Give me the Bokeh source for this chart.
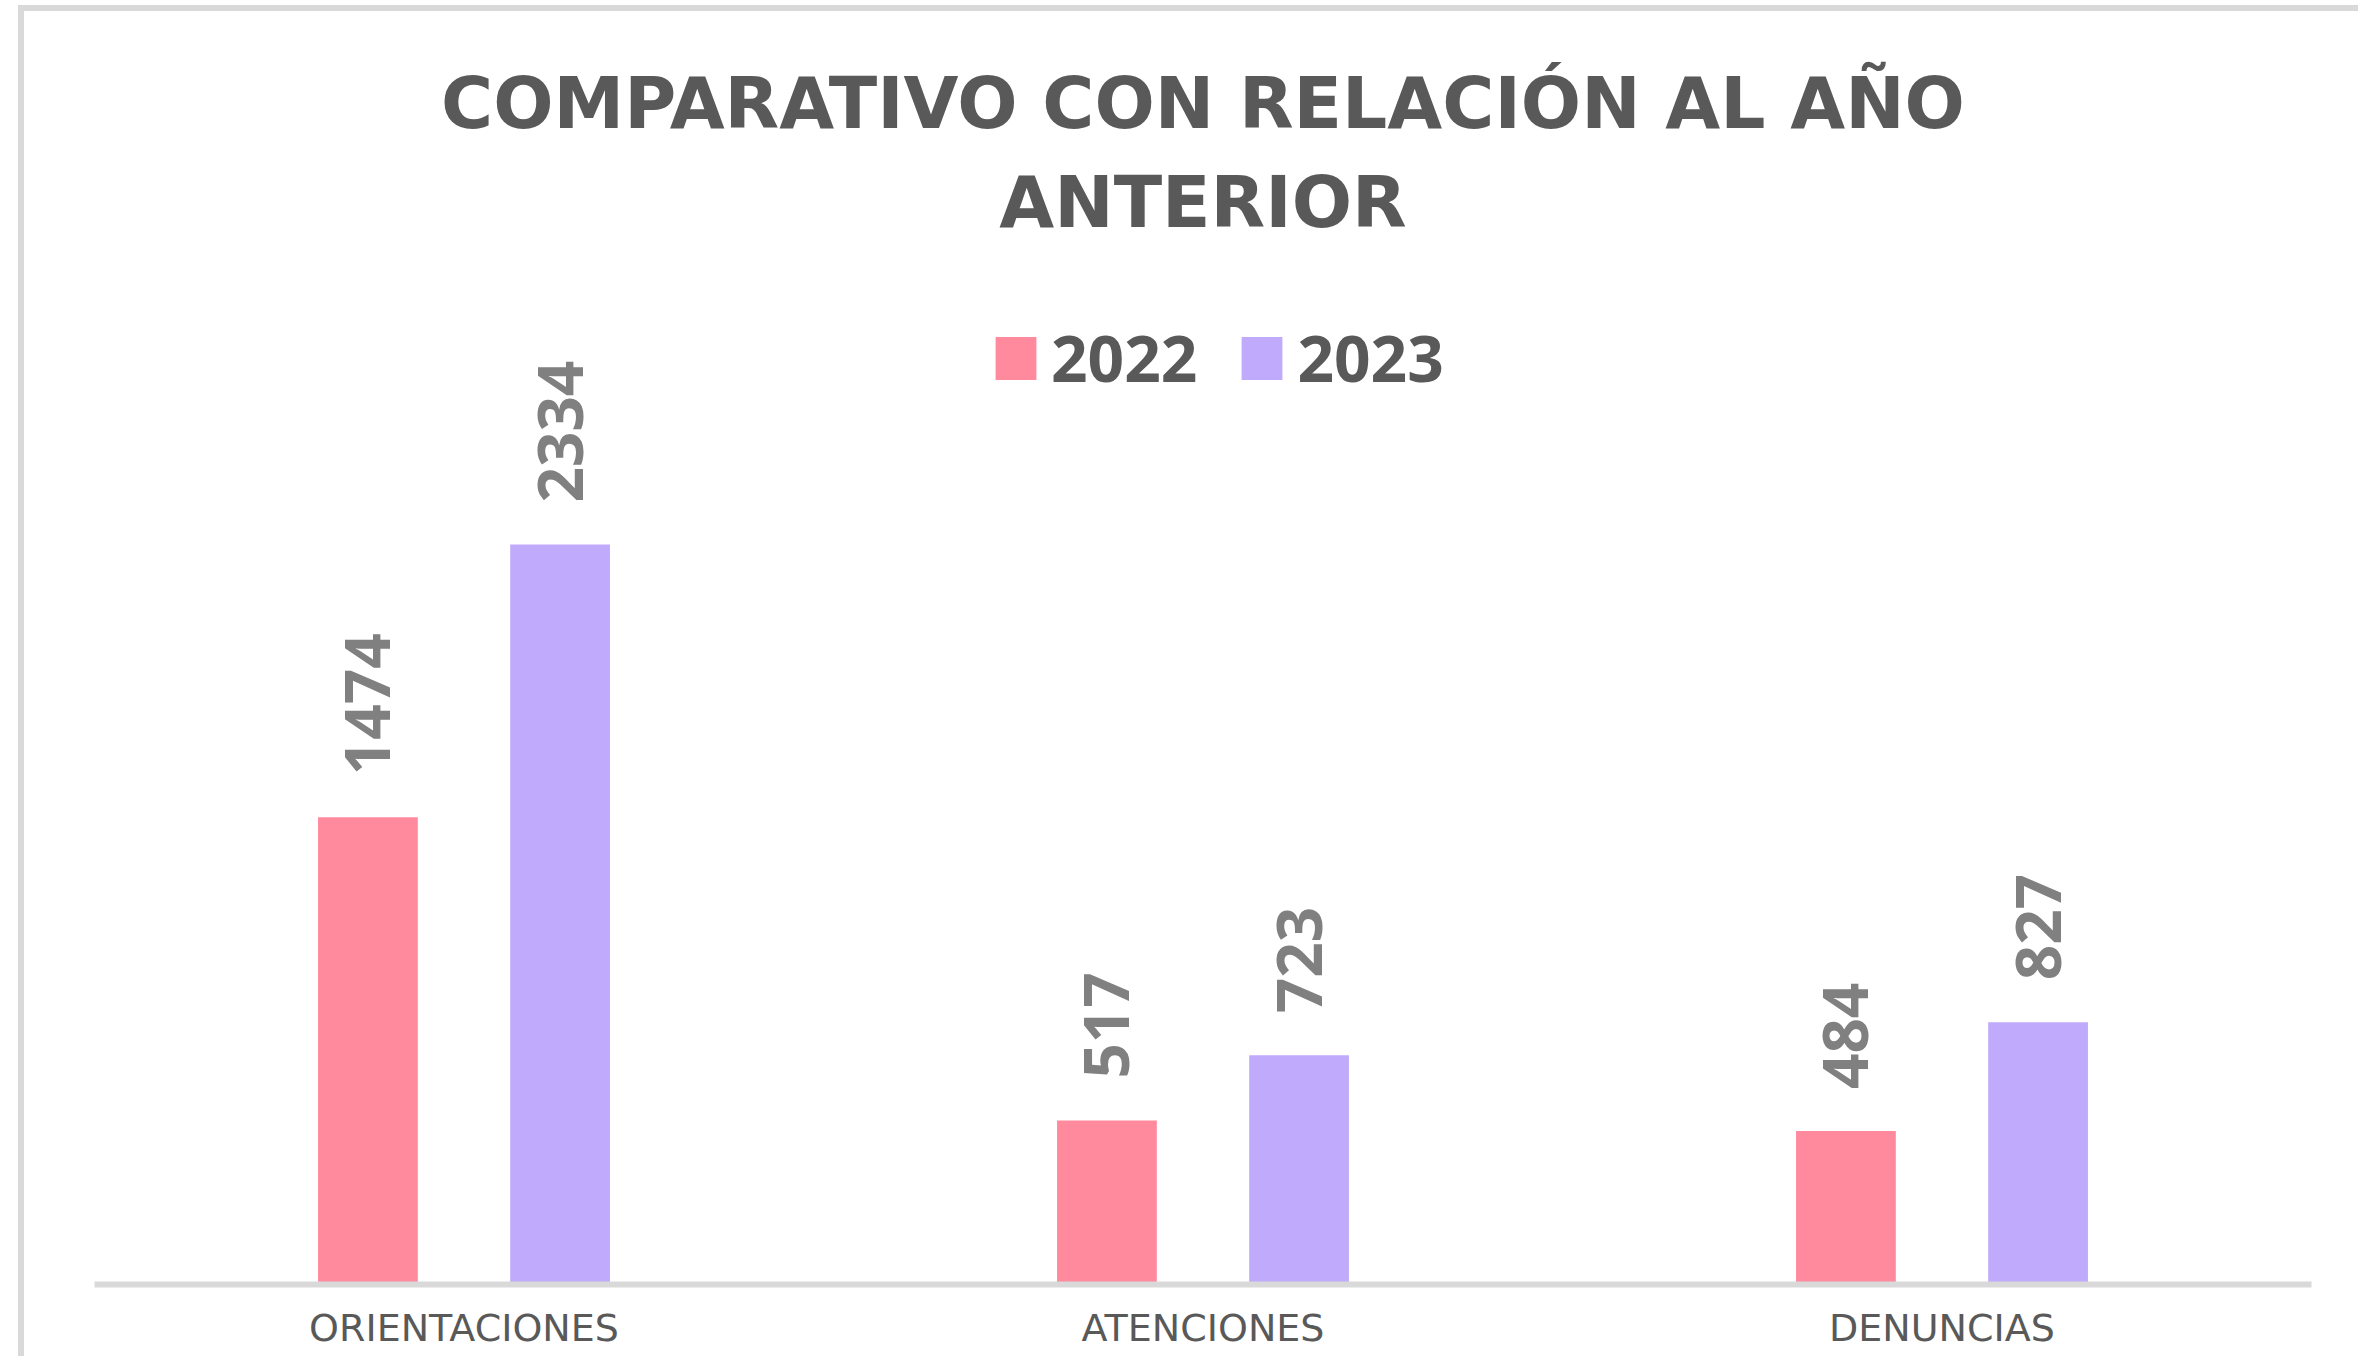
import math
from bokeh.plotting import figure
from bokeh.models import (ColumnDataSource, FactorRange, Range1d, Title, Legend,
                          LegendItem)
from bokeh.transform import dodge
from bokeh.core.properties import value
from bokeh.embed import file_html
from bokeh.resources import INLINE

categories = ["ORIENTACIONES", "ATENCIONES", "DENUNCIAS"]
series_names = ["2022", "2023"]
values_2022 = [1474, 517, 484]
values_2023 = [2334, 723, 827]

color_2022 = "#FF8A9D"
color_2023 = "#C0AAFB"
text_dark = "#595959"
text_label = "#808080"
frame_gray = "#D9D9D9"

src = ColumnDataSource(dict(
    cat=categories,
    v2022=values_2022,
    v2023=values_2023,
    l2022=[str(v) for v in values_2022],
    l2023=[str(v) for v in values_2023],
))

W, H = 2340, 1351
p = figure(x_range=FactorRange(*categories), y_range=Range1d(0, 3214),
           width=W, height=H, output_backend="svg", toolbar_location=None,
           y_axis_location=None,
           min_border_left=70, min_border_right=W - 2287,
           min_border_bottom=H - 1273, min_border_top=254,
           styles={"margin-left": "18px", "margin-top": "5px",
                   "border-left": "6px solid " + frame_gray,
                   "border-top": "6px solid " + frame_gray})
p.outline_line_color = None
p.xgrid.visible = False
p.ygrid.visible = False
p.background_fill_color = "white"
p.border_fill_color = "white"

# titles (p.title is the outer line)
p.title.text = "COMPARATIVO CON RELACIÓN AL AÑO"
p.title.align = "center"
p.title.text_font = "DejaVu Sans"
p.title.text_font_size = "71px"
p.title.text_font_style = "bold"
p.title.text_color = text_dark
p.title.standoff = -15
t2 = Title(text="ANTERIOR", align="center",
           text_font="DejaVu Sans", text_font_size="71px", text_font_style="bold",
           text_color=text_dark, standoff=43)
p.add_layout(t2, "above")

# x axis
ax = p.xaxis[0]
ax.axis_line_color = frame_gray
ax.axis_line_width = 6
ax.major_tick_line_color = None
ax.minor_tick_line_color = None
ax.major_label_text_font = "DejaVu Sans"
ax.major_label_text_font_size = "38px"
ax.major_label_text_color = text_dark
ax.major_label_standoff = 15

off = 0.13
bw = 0.135
r1 = p.vbar(x=dodge("cat", -off, range=p.x_range), top="v2022", width=bw,
            source=src, fill_color=color_2022, line_color=None)
r2 = p.vbar(x=dodge("cat", off, range=p.x_range), top="v2023", width=bw,
            source=src, fill_color=color_2023, line_color=None)

for col, lab, sx in (("v2022", "l2022", -off), ("v2023", "l2023", off)):
    p.text(x=dodge("cat", sx, range=p.x_range), y=col, text=lab,
           angle=math.pi / 2, text_align="left", text_baseline="middle",
           y_offset=-42, text_font=value("Open Sans"), text_font_style="bold",
           text_font_size="62px", text_color=text_label, source=src)

legend = Legend(items=[LegendItem(label=series_names[0], renderers=[r1]),
                       LegendItem(label=series_names[1], renderers=[r2])],
                orientation="horizontal", location=(896, 883),
                glyph_width=51, glyph_height=54, label_standoff=10, spacing=39,
                padding=0, margin=0, border_line_color=None,
                background_fill_alpha=0,
                label_text_font="Open Sans", label_text_font_style="bold",
                label_text_font_size="64px", label_text_color=text_dark)
p.add_layout(legend)

open("out.html", "w").write(file_html(p, INLINE))
